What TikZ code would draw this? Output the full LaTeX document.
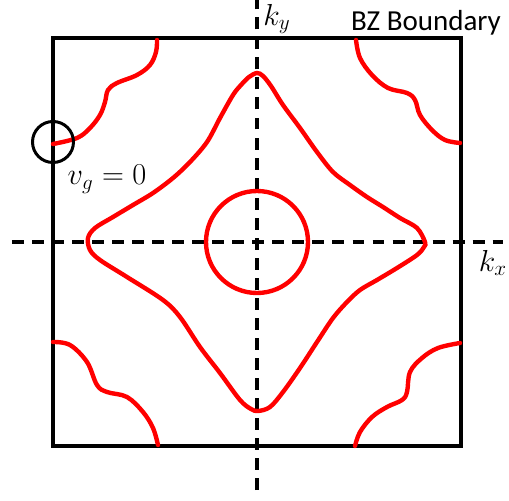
\documentclass[tikz,border=0pt]{standalone}
\usepackage{fontspec}
\newfontfamily\bzfont{Carlito}
\usepackage{tikz}
\usetikzlibrary{calc}
\definecolor{fermi}{RGB}{255,0,0}
\definecolor{bzedge}{RGB}{0,0,0}
\tikzset{
  bzline/.style={bzedge,line width=2.5pt,line join=miter},
  fsline/.style={fermi,line width=2.5pt,line cap=round},
  axline/.style={black,line width=1.9pt,dash pattern=on 6.8pt off 4.6pt},
  vgmark/.style={black,line width=1.7pt},
  lab/.style={font=\fontsize{17}{19}\selectfont,inner sep=0pt},
}
\begin{document}
\begin{tikzpicture}[x=0.02cm,y=0.02cm]
  \useasboundingbox (-257,-258) rectangle (252,242);
  % axes
  \coordinate (ytop) at (0,242);  \coordinate (ybot) at (0,-248);
  \coordinate (xlft) at (-245,0); \coordinate (xrgt) at (246,0);
  \draw[axline] (ybot) -- (ytop);
  \draw[axline] (xlft) -- (xrgt);
  % BZ
  \draw[bzline] (-204,-204) rectangle (204,204);
  % Fermi surface: pocket and star
  \draw[fsline] (0,0) circle (51);
  \draw[fsline] plot[smooth cycle,tension=0.55] coordinates {
    (168,0) (160,14) (143,24) (126,35) (110,45) (93,57) (76,70) (60,90)
    (43,114) (26,137) (14,156) (6,166) (0,169) (-8,165) (-16,157) (-24,147)
    (-37,124) (-50,100) (-67,80) (-84,64) (-104,49) (-124,37) (-144,25)
    (-162,14) (-169,4) (-167,-8) (-157,-18) (-130,-35) (-94,-58) (-77,-75)
    (-57,-105) (-37,-131) (-17,-158) (-6,-167) (1,-169) (13,-165) (26,-150)
    (43,-126) (60,-100) (76,-76) (90,-60) (103,-48) (120,-38) (140,-26)
    (160,-13) (167,-5)};
  % corner pockets
  \draw[fsline] plot[smooth,tension=0.6] coordinates {
    (-100,202) (-101,190) (-107,177) (-120,167) (-140,159) (-149,152)
    (-152,140) (-157,127) (-167,114) (-180,104) (-204,98)};
  \draw[fsline] plot[smooth,tension=0.6] coordinates {
    (99,202) (103,184) (115,167) (131,154) (150,149) (158,142)
    (163,127) (175,112) (188,102) (203,99)};
  \draw[fsline] plot[smooth,tension=0.6] coordinates {
    (-204,-100) (-187,-103) (-170,-120) (-160,-143) (-150,-150)
    (-130,-155) (-114,-170) (-104,-186) (-99,-203)};
  \draw[fsline] plot[smooth,tension=0.6] coordinates {
    (98,-204) (103,-190) (115,-175) (130,-165) (145,-158) (150,-150)
    (153,-130) (165,-116) (181,-106) (203,-101)};
  % v_g = 0 marker
  \node[vgmark,circle,draw,minimum size=41*0.02cm,inner sep=0pt] (vg) at (-204,100) {};
  \node[lab] (vglab) at (-150,63) {$v_g=0$};
  \node[lab] (ky) at (20,223) {$k_y$};
  \node[lab] (kx) at (236,-21) {$k_x$};
  \node[inner sep=0pt,font=\bzfont\fontsize{16.5}{19}\selectfont] (bz) at (169,219) {BZ Boundary};
\end{tikzpicture}
\end{document}
